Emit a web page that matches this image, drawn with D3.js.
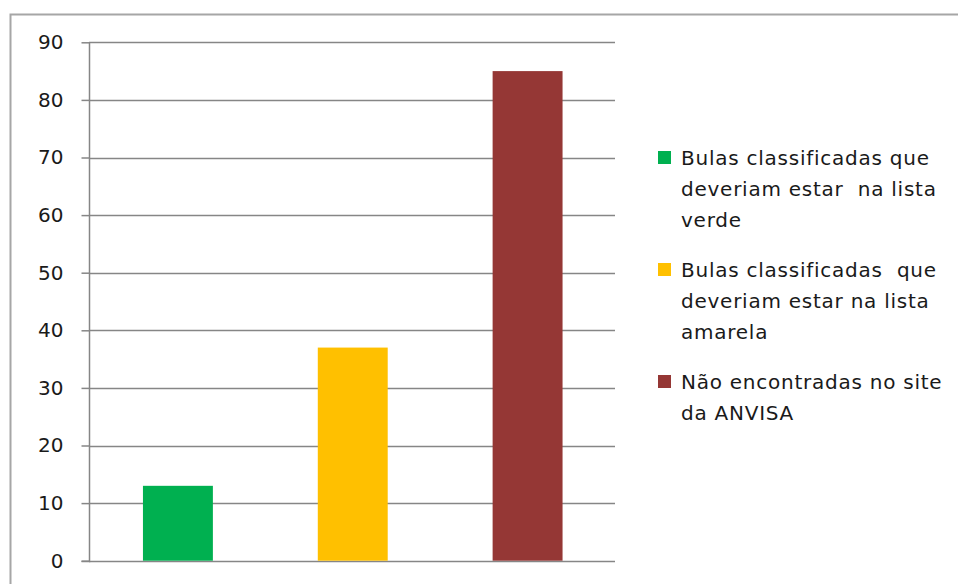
<!DOCTYPE html>
<html><head><meta charset="utf-8">
<script src="https://cdn.jsdelivr.net/npm/d3@7"></script>
<style>body{margin:0;background:#fff;} svg{display:block;}</style>
</head><body>
<svg id="c" width="958" height="584"></svg>
<script>
const categories = ["verde", "amarela", "anvisa"];
const values = [13, 37, 85];
const colors = ["#00b050", "#ffc000", "#953735"];
const legendLines = [
  ["Bulas classificadas que", "deveriam estar  na lista", "verde"],
  ["Bulas classificadas  que", "deveriam estar na lista", "amarela"],
  ["Não encontradas no site", "da ANVISA"]
];
const yTicks = [0,10,20,30,40,50,60,70,80,90];

const svg = d3.select("#c");
const font = "'DejaVu Sans', sans-serif";
// outer chart border
svg.append("rect").attr("x",10.5).attr("y",14.5).attr("width",1000).attr("height",1000)
  .attr("fill","none").attr("stroke","#a6a6a6").attr("stroke-width",2);

const x0 = 89, x1 = 615, yTop = 42.3, yBot = 560.7;
const x = d3.scaleBand().domain(categories).range([x0+1.5,x1]).paddingInner(0.6).paddingOuter(0.3);
const y = d3.scaleLinear().domain([0,90]).range([yBot,yTop]);

// gridlines
svg.append("g").selectAll("line").data(yTicks).join("line")
  .attr("x1",x0).attr("x2",x1).attr("y1",d=>Math.round(y(d))+0.5).attr("y2",d=>Math.round(y(d))+0.5)
  .attr("stroke","#868686").attr("stroke-width",1.5);

// y axis
const ax = svg.append("g").attr("transform",`translate(${x0+0.5},0)`)
  .call(d3.axisLeft(y).tickValues(yTicks).tickSize(8).tickPadding(18));
ax.select(".domain").attr("stroke","#868686").attr("stroke-width",1.5).attr("d",`M-8,${Math.round(yBot)+0.5}H0V${Math.round(yTop)+0.5}`);
ax.selectAll(".tick line").attr("stroke","#868686").attr("stroke-width",1.5);
ax.selectAll(".tick text").attr("font-family",font).attr("font-size",20).attr("fill","#1a1a1a");

// bars
svg.append("g").selectAll("rect").data(values).join("rect")
  .attr("x",(d,i)=>x(categories[i])).attr("width",x.bandwidth())
  .attr("y",d=>y(d)).attr("height",d=>yBot-y(d))
  .attr("fill",(d,i)=>colors[i]);

// legend
const lg = svg.append("g");
const starts = [158, 270, 382];
legendLines.forEach((lines,i)=>{
  lg.append("rect").attr("x",658).attr("y",starts[i]-7).attr("width",13).attr("height",13).attr("fill",colors[i]);
  lines.forEach((t,j)=>{
    lg.append("text").attr("x",681).attr("y",starts[i]+j*31).attr("dy","0.35em")
      .attr("font-family",font).attr("font-size",20).attr("letter-spacing",0.75).attr("fill","#1a1a1a")
      .style("white-space","pre").text(t);
  });
});
</script>
</body></html>
